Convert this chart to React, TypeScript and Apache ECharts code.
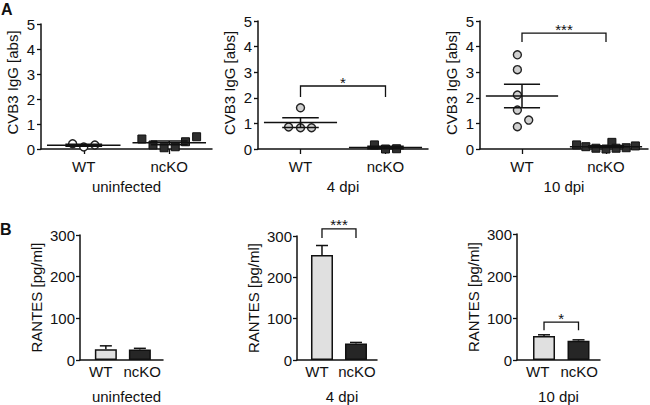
import React, { useEffect, useRef } from 'react';
import * as echarts from 'echarts';

// ---- data ----
const groups = ['WT', 'ncKO'];
const conditions = ['uninfected', '4 dpi', '10 dpi'];

// Panel A: CVB3 IgG [abs], individual animals
const igUninfWT = [0.21, 0.08, 0.16];
const igUninfWTJitter = [-0.13, 0, 0.13];
const igUninfKO = [0.4, 0.16, 0.05, 0.09, 0.29, 0.49];
const igUninfKOJitter = [-0.32, -0.19, -0.06, 0.07, 0.19, 0.32];
const ig4WT = [1.61, 0.86, 0.83, 0.83];
const ig4WTJitter = [0, -0.14, 0, 0.13];
const ig4KO = [0.16, 0.0, 0.01];
const ig4KOJitter = [-0.13, 0, 0.13];
const ig10WT = [3.68, 3.1, 2.11, 1.52, 1.13, 0.87];
const ig10WTJitter = [-0.055, -0.055, -0.055, -0.055, 0.08, -0.055];
const ig10KO = [0.16, 0.09, 0.03, 0.0, 0.26, 0.03, 0.05, 0.12];
const ig10KOJitter = [-0.35, -0.24, -0.12, 0, 0.07, 0.12, 0.24, 0.35];

// Panel B: RANTES [pg/ml], mean and SEM
const rantesUninfMean = [26, 25];
const rantesUninfSem = [8, 3];
const rantes4Mean = [254, 40];
const rantes4Sem = [23, 2.5];
const rantes10Mean = [57, 46];
const rantes10Sem = [3, 2];

const igTicksMax = 5;
const igInterval = 1;
const rantesMax = 300;
const rantesInterval = 100;

// significance annotations: [label, bracket top, bracket leg end] in data units
const sigA = [null, ['*', 2.46, 2.03], ['***', 4.53, 4.18]];
const sigB = [null, ['***', 317, 295], ['*', 90, 71]];

// ---- helpers ----
const FONT = 'Liberation Sans, Arial, Helvetica, sans-serif';
const INK = '#111';

const mean = (a: number[]) => a.reduce((s, v) => s + v, 0) / a.length;
const sem = (a: number[]) => {
  const m = mean(a);
  const v = a.reduce((s, x) => s + (x - m) * (x - m), 0) / (a.length - 1);
  return Math.sqrt(v) / Math.sqrt(a.length);
};

export default function App() {
  const ref = useRef<HTMLDivElement>(null);

  useEffect(() => {
    if (!ref.current) return;
    const chart = echarts.init(ref.current, undefined, { renderer: 'svg' });

    const aGrids = [
      { left: 41, top: 24, width: 171, height: 125 },
      { left: 258, top: 21, width: 170, height: 128 },
      { left: 480, top: 21, width: 168, height: 128 },
    ];
    const bGrids = [
      { left: 80, top: 235, width: 83, height: 125 },
      { left: 297, top: 236, width: 80, height: 124 },
      { left: 517, top: 234, width: 83, height: 126 },
    ];
    const bBarRange = [
      [0.24, 2.68],
      [0.265, 2.618],
      [0.217, 2.623],
    ];
    const aNamePad = [8, 4, 4];
    const bXNamePad = [10, 10, 0];

    const aSets = [
      [igUninfWT, igUninfWTJitter, igUninfKO, igUninfKOJitter],
      [ig4WT, ig4WTJitter, ig4KO, ig4KOJitter],
      [ig10WT, ig10WTJitter, ig10KO, ig10KOJitter],
    ];
    const bSets = [
      [rantesUninfMean, rantesUninfSem],
      [rantes4Mean, rantes4Sem],
      [rantes10Mean, rantes10Sem],
    ];

    const grid: any[] = [];
    const xAxis: any[] = [];
    const yAxis: any[] = [];
    const series: any[] = [];

    const axisLine = { show: true, onZero: false, lineStyle: { color: INK, width: 1.5 } };
    const labelStyle = { color: INK, fontSize: 15, fontFamily: FONT };

    const bracketSeries = (xi: number, yi: number, x1: number, x2: number, sig: any) => ({
      type: 'custom',
      xAxisIndex: xi,
      yAxisIndex: yi,
      clip: false,
      silent: true,
      z: 5,
      data: [[x1, x2, sig[1], sig[2]]],
      renderItem: (params: any, api: any) => {
        const a = api.coord([api.value(0), api.value(3)]);
        const b = api.coord([api.value(0), api.value(2)]);
        const c = api.coord([api.value(1), api.value(2)]);
        const d = api.coord([api.value(1), api.value(3)]);
        return {
          type: 'group',
          children: [
            {
              type: 'polyline',
              shape: { points: [a, b, c, d] },
              style: { stroke: INK, lineWidth: 1.3, fill: null },
            },
            {
              type: 'text',
              x: (b[0] + c[0]) / 2,
              y: b[1] - 4,
              style: {
                text: sig[0],
                align: 'center',
                verticalAlign: 'middle',
                fontSize: 15,
                fontFamily: FONT,
                fill: INK,
              },
            },
          ],
        };
      },
    });

    // ---- Panel A ----
    aGrids.forEach((g, p) => {
      const gi = grid.length;
      grid.push({ ...g, containLabel: false });
      xAxis.push({
        type: 'category',
        gridIndex: gi,
        data: groups,
        axisLine,
        axisTick: { show: true, alignWithLabel: true, length: 5, lineStyle: { color: INK, width: 1.3 } },
        axisLabel: { ...labelStyle, margin: 10, interval: 0 },
        name: conditions[p],
        nameLocation: 'middle',
        nameGap: 30,
        nameTextStyle: { ...labelStyle },
      });
      const xVal = xAxis.length;
      xAxis.push({
        type: 'value',
        gridIndex: gi,
        min: -0.5,
        max: 1.5,
        show: false,
        axisLine: { show: false, onZero: false },
        splitLine: { show: false },
      });
      const yi = yAxis.length;
      yAxis.push({
        type: 'value',
        gridIndex: gi,
        min: 0,
        max: igTicksMax,
        interval: igInterval,
        axisLine,
        axisTick: { show: true, length: 4, lineStyle: { color: INK, width: 1.3 } },
        axisLabel: { ...labelStyle, margin: 6 },
        splitLine: { show: false },
        name: 'CVB3 IgG [abs]',
        nameLocation: 'middle',
        nameGap: 21,
        nameTextStyle: { ...labelStyle, padding: [0, 0, 0, aNamePad[p]] },
      });
      const [wt, wtJ, ko, koJ] = aSets[p] as number[][];
      series.push({
        type: 'scatter',
        xAxisIndex: xVal,
        yAxisIndex: yi,
        symbol: 'circle',
        symbolSize: 8,
        z: 2,
        itemStyle: { color: p === 0 ? '#ffffff' : '#d0d0d0', borderColor: '#222', borderWidth: 1.4, opacity: 1 },
        data: wt.map((v, i) => [0 + wtJ[i], v]),
      });
      series.push({
        type: 'scatter',
        xAxisIndex: xVal,
        yAxisIndex: yi,
        symbol: 'rect',
        symbolSize: 8,
        z: 2,
        itemStyle: { color: '#2e2e2e', borderColor: '#111', borderWidth: 1, opacity: 1 },
        data: ko.map((v, i) => [1 + koJ[i], v]),
      });
      series.push({
        type: 'custom',
        xAxisIndex: xVal,
        yAxisIndex: yi,
        silent: true,
        clip: false,
        z: 4,
        data: [wt, ko].map((arr, i) => [i, mean(arr), sem(arr)]),
        renderItem: (params: any, api: any) => {
          const x = api.value(0);
          const m = api.value(1);
          const s = api.value(2);
          const l = api.coord([x - 0.43, m]);
          const r = api.coord([x + 0.43, m]);
          const up = api.coord([x, m + s]);
          const dn = api.coord([x, m - s]);
          const hw = api.coord([x + 0.215, m])[0] - api.coord([x, m])[0];
          const st = { stroke: INK, lineWidth: 1.5 };
          return {
            type: 'group',
            children: [
              { type: 'line', shape: { x1: l[0], y1: l[1], x2: r[0], y2: r[1] }, style: st },
              { type: 'line', shape: { x1: up[0] - hw, y1: up[1], x2: up[0] + hw, y2: up[1] }, style: st },
              { type: 'line', shape: { x1: dn[0] - hw, y1: dn[1], x2: dn[0] + hw, y2: dn[1] }, style: st },
              { type: 'line', shape: { x1: up[0], y1: up[1], x2: dn[0], y2: dn[1] }, style: st },
            ],
          };
        },
      });
      if (sigA[p]) series.push(bracketSeries(xVal, yi, 0, 1, sigA[p]));
    });

    // ---- Panel B ----
    bGrids.forEach((g, p) => {
      const gi = grid.length;
      grid.push({ ...g, containLabel: false });
      xAxis.push({
        type: 'category',
        gridIndex: gi,
        data: groups,
        axisLine,
        axisTick: { show: false },
        axisLabel: { ...labelStyle, margin: 4, interval: 0 },
        name: conditions[p],
        nameLocation: 'middle',
        nameGap: 29,
        nameTextStyle: { ...labelStyle, padding: [0, 0, 0, bXNamePad[p]] },
      });
      const xVal = xAxis.length;
      xAxis.push({
        type: 'value',
        gridIndex: gi,
        min: bBarRange[p][0],
        max: bBarRange[p][1],
        show: false,
        axisLine: { show: false, onZero: false },
        splitLine: { show: false },
      });
      const yi = yAxis.length;
      yAxis.push({
        type: 'value',
        gridIndex: gi,
        min: 0,
        max: rantesMax,
        interval: rantesInterval,
        axisLine,
        axisTick: { show: true, length: 4, lineStyle: { color: INK, width: 1.3 } },
        axisLabel: { ...labelStyle, margin: 5 },
        splitLine: { show: false },
        name: 'RANTES [pg/ml]',
        nameLocation: 'middle',
        nameGap: 36,
        nameTextStyle: { ...labelStyle },
      });
      const [means, sems] = bSets[p];
      series.push({
        type: 'bar',
        xAxisIndex: xVal,
        yAxisIndex: yi,
        barWidth: 22,
        z: 2,
        itemStyle: { borderColor: INK, borderWidth: 1.5 },
        data: means.map((v, i) => ({
          value: [i + 1, v],
          itemStyle: { color: i === 0 ? '#e0e0e0' : '#262626' },
        })),
      });
      series.push({
        type: 'custom',
        xAxisIndex: xVal,
        yAxisIndex: yi,
        silent: true,
        clip: false,
        z: 3,
        data: means.map((v, i) => [i + 1, v, sems[i]]),
        renderItem: (params: any, api: any) => {
          const x = api.value(0);
          const m = api.value(1);
          const s = api.value(2);
          const base = api.coord([x, m]);
          const top = api.coord([x, m + s]);
          const st = { stroke: INK, lineWidth: 1.5 };
          return {
            type: 'group',
            children: [
              { type: 'line', shape: { x1: base[0], y1: base[1], x2: top[0], y2: top[1] }, style: st },
              { type: 'line', shape: { x1: top[0] - 6, y1: top[1], x2: top[0] + 6, y2: top[1] }, style: st },
            ],
          };
        },
      });
      if (sigB[p]) series.push(bracketSeries(xVal, yi, 1, 2, sigB[p]));
    });

    chart.setOption({
      animation: false,
      backgroundColor: '#ffffff',
      textStyle: { fontFamily: FONT },
      grid,
      xAxis,
      yAxis,
      series,
      graphic: [
        { type: 'text', left: 1, top: 1, style: { text: 'A', fontSize: 16, fontWeight: 'bold', fontFamily: FONT, fill: INK } },
        { type: 'text', left: 0, top: 221, style: { text: 'B', fontSize: 16, fontWeight: 'bold', fontFamily: FONT, fill: INK } },
      ],
    });

    return () => chart.dispose();
  }, []);

  return (
    <div
      ref={ref}
      style={{ position: 'fixed', left: 0, top: 0, width: 650, height: 405, background: '#fff' }}
    />
  );
}
